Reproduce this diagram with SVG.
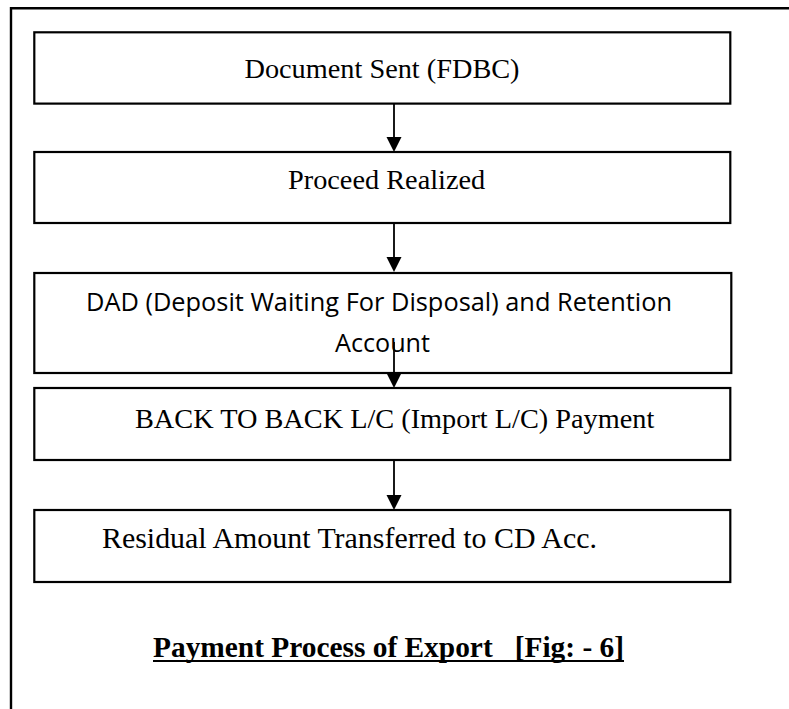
<svg xmlns="http://www.w3.org/2000/svg" width="789" height="709" viewBox="0 0 789 709">
<defs>
<style>
.box{fill:#fff;stroke:#000;stroke-width:2.2}
.frame{fill:none;stroke:#000;stroke-width:2.4}
.conn{stroke:#000;stroke-width:1.8;fill:none}
.tnr{font-family:"Liberation Serif","Times New Roman",serif;font-size:28.3px;fill:#000}
.cal{font-family:"Open Sans","Noto Sans",sans-serif;font-size:26px;fill:#000}
.title{font-family:"Liberation Serif","Times New Roman",serif;font-size:29.3px;font-weight:bold;fill:#000;white-space:pre}
</style>
</defs>
<rect width="789" height="709" fill="#fff"/>
<path class="frame" d="M11,709 L11,8.3 L789,8.3"/>
<g id="n1"><rect class="box" x="34.3" y="32.3" width="696" height="71.3"/><text class="tnr" x="382" y="77.5" text-anchor="middle">Document Sent (FDBC)</text></g>
<g id="n2"><rect class="box" x="34.3" y="152" width="696" height="71"/><text class="tnr" x="288" y="188.5">Proceed Realized</text></g>
<g id="n3"><rect class="box" x="34.3" y="273" width="697" height="100"/><text class="cal" x="86" y="311" textLength="586" lengthAdjust="spacingAndGlyphs">DAD (Deposit Waiting For Disposal) and Retention</text><text class="cal" x="335" y="352" textLength="95" lengthAdjust="spacingAndGlyphs">Account</text></g>
<g id="n4"><rect class="box" x="34.3" y="388" width="696" height="72"/><text class="tnr" x="135" y="428">BACK TO BACK L/C (Import L/C) Payment</text></g>
<g id="n5"><rect class="box" x="34.3" y="510" width="696" height="72"/><text class="tnr" x="102" y="548" style="font-size:29.9px" textLength="495" lengthAdjust="spacingAndGlyphs">Residual Amount Transferred to CD Acc.</text></g>
<g id="connectors">
<path class="conn" d="M394,103.6 L394,138" />
<path d="M386.5,137 L401.5,137 L394,152 Z"/>
<path class="conn" d="M394,223 L394,258" />
<path d="M386.5,257 L401.5,257 L394,272 Z"/>
<path class="conn" d="M394,342 L394,374" />
<path d="M386.5,373 L401.5,373 L394,388 Z"/>
<path class="conn" d="M394,460 L394,496" />
<path d="M386.5,495 L401.5,495 L394,510 Z"/>
</g>
<g id="caption">
<text class="title" x="153" y="657" xml:space="preserve" textLength="471" lengthAdjust="spacingAndGlyphs">Payment Process of Export   [Fig: - 6]</text>
<line x1="153" y1="661" x2="624" y2="661" stroke="#000" stroke-width="2.2"/>
</g>
</svg>
